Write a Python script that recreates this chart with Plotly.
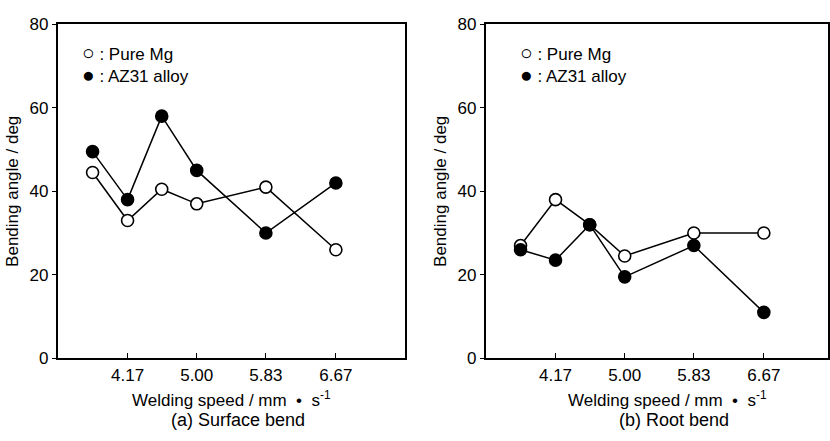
import plotly.graph_objects as go

# Welding speed (mm/s)
speed = [3.75, 4.17, 4.58, 5.00, 5.83, 6.67]
tick_vals = [4.17, 5.00, 5.83, 6.67]
tick_text = ["4.17", "5.00", "5.83", "6.67"]
y_ticks = [0, 20, 40, 60, 80]

# (a) Surface bend
surf_pure = [44.5, 33, 40.5, 37, 41, 26]
surf_az31 = [49.5, 38, 58, 45, 30, 42]
# (b) Root bend
root_pure = [27, 38, 32, 24.5, 30, 30]
root_az31 = [26, 23.5, 32, 19.5, 27, 11]

FONT = "Liberation Sans, Arial, sans-serif"
W, H = 830, 441

fig = go.Figure()

def add_pair(pure, az, xa, ya):
    fig.add_trace(go.Scatter(x=speed, y=pure, xaxis=xa, yaxis=ya, mode="lines+markers",
                             line=dict(color="black", width=1.5),
                             marker=dict(size=12, color="white", line=dict(color="black", width=1.6)),
                             showlegend=False, name="Pure Mg"))
    fig.add_trace(go.Scatter(x=speed, y=az, xaxis=xa, yaxis=ya, mode="lines+markers",
                             line=dict(color="black", width=1.5),
                             marker=dict(size=12, color="black", line=dict(color="black", width=1.6)),
                             showlegend=False, name="AZ31 alloy"))

add_pair(surf_pure, surf_az31, "x", "y")
add_pair(root_pure, root_az31, "x2", "y2")

ydom = [1 - 365 / H, 1 - 16 / H]
xdom1 = [58 / W, 406 / W]
xdom2 = [487 / W, 1.0]
px_per_unit = (406 - 58) / (7.5 - 3.3333)
xr1 = [3.3333, 7.5]
xr2 = [3.3333, 3.3333 + (W - 487) / px_per_unit]

xcommon = dict(tickvals=tick_vals, ticktext=tick_text, ticks="inside", ticklen=5,
               tickwidth=1.2, tickcolor="black", showline=True, linecolor="black",
               linewidth=2, mirror=True, showgrid=False, zeroline=False,
               tickfont=dict(family=FONT, size=17, color="black"))
ycommon = dict(range=[0, 80], tickvals=y_ticks, ticks="outside", ticklen=4,
               tickwidth=1.2, tickcolor="black", showline=True, linecolor="black",
               linewidth=2, mirror=True, showgrid=False, zeroline=False,
               tickfont=dict(family=FONT, size=17, color="black"),
               title=dict(text="Bending angle / deg",
                          font=dict(family=FONT, size=17, color="black"), standoff=7))
yright = dict(range=[0, 80], tickvals=y_ticks[1:-1], ticks="inside", ticklen=5,
              tickwidth=1.2, tickcolor="black", showticklabels=False, showline=False,
              showgrid=False, zeroline=False, side="right")

fig.update_layout(
    width=W, height=H, margin=dict(l=0, r=0, t=0, b=0),
    paper_bgcolor="white", plot_bgcolor="white",
    xaxis=dict(domain=xdom1, range=xr1, anchor="y", **xcommon),
    yaxis=dict(domain=ydom, anchor="x", **ycommon),
    xaxis2=dict(domain=xdom2, range=xr2, anchor="y2", **xcommon),
    yaxis2=dict(domain=ydom, anchor="x2", **ycommon),
    yaxis3=dict(overlaying="y", anchor="x", **yright),
    yaxis4=dict(overlaying="y2", anchor="x2", **yright),
    showlegend=False,
)

legend_text = ("<span style='font-size:21px'>○</span> : Pure Mg<br>"
               "<span style='font-size:21px'>●</span> : AZ31 alloy")
for xref, yref, lx in [("x domain", "y domain", 0.065), ("x2 domain", "y2 domain", 0.095)]:
    fig.add_annotation(x=lx, y=0.955, xref=xref, yref=yref, text=legend_text,
                       showarrow=False, xanchor="left", yanchor="top", align="left",
                       font=dict(family=FONT, size=17, color="black"))

xtitle = "Welding speed / mm&nbsp; •&nbsp; s<sup>-1</sup>"
texts = [("x domain", 0.5, 408, xtitle, 17),
         ("x domain", 0.52, 430, "(a) Surface bend", 18),
         ("x2 domain", 0.53, 408, xtitle, 17),
         ("x2 domain", 0.55, 430, "(b) Root bend", 18)]
for xref, xx, ypx, txt, fs in texts:
    fig.add_annotation(x=xx, y=1 - ypx / H, xref=xref, yref="paper", text=txt,
                       showarrow=False, yanchor="middle",
                       font=dict(family=FONT, size=fs, color="black"))

fig.write_html("out.html")
